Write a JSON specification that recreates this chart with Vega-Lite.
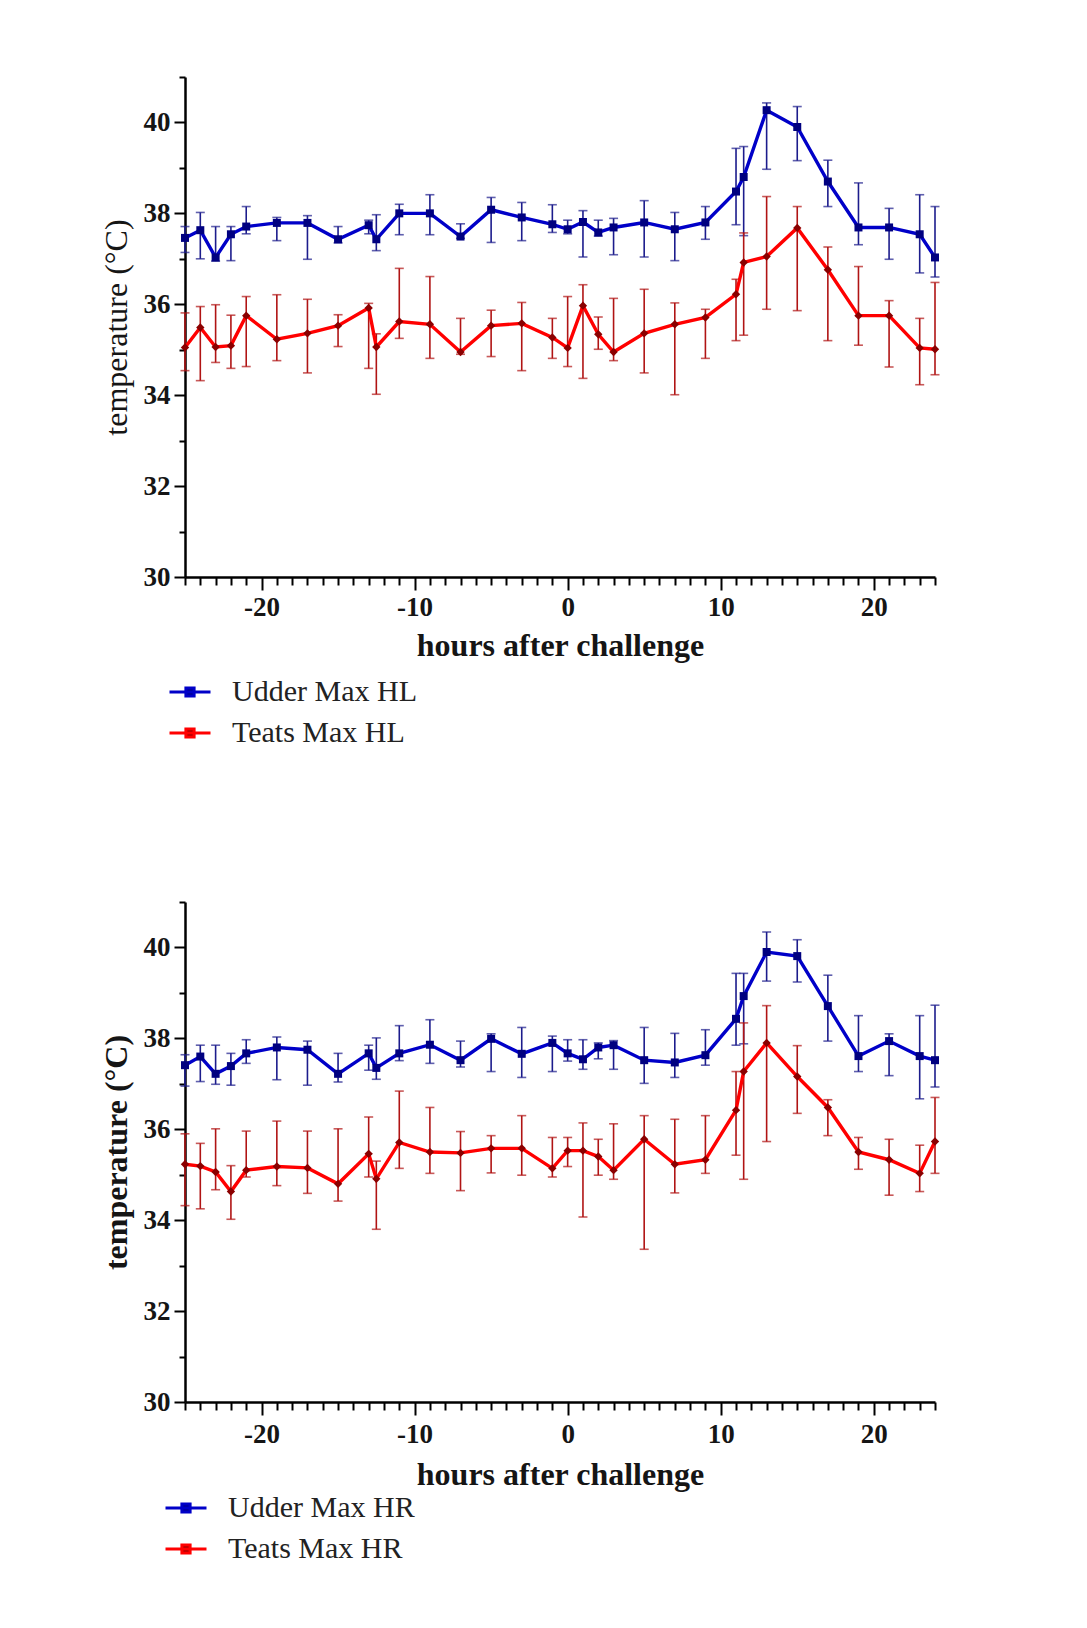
{
  "$schema": "https://vega.github.io/schema/vega-lite/v6.json",
  "padding": {"left": 100, "top": 76, "right": 10, "bottom": 10},
  "background": "white",
  "spacing": 153,
  "resolve": {"scale": {"color": "independent"}, "legend": {"color": "independent"}},
  "config": {
    "view": {"stroke": null},
    "axis": {
      "grid": false,
      "domainColor": "black",
      "domainWidth": 2.5,
      "tickColor": "black",
      "tickWidth": 2,
      "labelFont": "Liberation Serif",
      "labelFontWeight": "bold",
      "labelFontSize": 27,
      "labelColor": "#151515",
      "titleFont": "Liberation Serif",
      "titleFontSize": 32,
      "titleFontWeight": "bold",
      "titleColor": "#151515"
    },
    "legend": {
      "labelFont": "Liberation Serif",
      "labelFontSize": 30,
      "labelColor": "#222222",
      "labelLimit": 500,
      "padding": 0
    }
  },
  "datasets": {
    "hl": [
      {"series": "Udder Max HL", "h": -25, "m": 37.46, "lo": 37.14, "hi": 37.71},
      {"series": "Udder Max HL", "h": -24, "m": 37.63, "lo": 37.0, "hi": 38.02},
      {"series": "Udder Max HL", "h": -23, "m": 37.03, "lo": 36.95, "hi": 37.71},
      {"series": "Udder Max HL", "h": -22, "m": 37.54, "lo": 36.96, "hi": 37.71},
      {"series": "Udder Max HL", "h": -21, "m": 37.71, "lo": 37.55, "hi": 38.15},
      {"series": "Udder Max HL", "h": -19, "m": 37.79, "lo": 37.4, "hi": 37.91},
      {"series": "Udder Max HL", "h": -17, "m": 37.79, "lo": 36.99, "hi": 37.95},
      {"series": "Udder Max HL", "h": -15, "m": 37.43, "lo": 37.35, "hi": 37.71},
      {"series": "Udder Max HL", "h": -13, "m": 37.74, "lo": 37.55, "hi": 37.85},
      {"series": "Udder Max HL", "h": -12.5, "m": 37.43, "lo": 37.18, "hi": 37.97},
      {"series": "Udder Max HL", "h": -11, "m": 38.0, "lo": 37.53, "hi": 38.2},
      {"series": "Udder Max HL", "h": -9, "m": 38.0, "lo": 37.53, "hi": 38.41},
      {"series": "Udder Max HL", "h": -7, "m": 37.49, "lo": 37.45, "hi": 37.77},
      {"series": "Udder Max HL", "h": -5, "m": 38.08, "lo": 37.36, "hi": 38.35},
      {"series": "Udder Max HL", "h": -3, "m": 37.91, "lo": 37.4, "hi": 38.24},
      {"series": "Udder Max HL", "h": -1, "m": 37.76, "lo": 37.58, "hi": 38.19},
      {"series": "Udder Max HL", "h": 0, "m": 37.65, "lo": 37.55, "hi": 37.85},
      {"series": "Udder Max HL", "h": 1, "m": 37.81, "lo": 37.04, "hi": 38.06},
      {"series": "Udder Max HL", "h": 2, "m": 37.58, "lo": 37.5, "hi": 37.85},
      {"series": "Udder Max HL", "h": 3, "m": 37.69, "lo": 37.09, "hi": 37.89},
      {"series": "Udder Max HL", "h": 5, "m": 37.8, "lo": 37.04, "hi": 38.28},
      {"series": "Udder Max HL", "h": 7, "m": 37.65, "lo": 36.96, "hi": 38.02},
      {"series": "Udder Max HL", "h": 9, "m": 37.8, "lo": 37.43, "hi": 38.15},
      {"series": "Udder Max HL", "h": 11, "m": 38.48, "lo": 37.75, "hi": 39.43},
      {"series": "Udder Max HL", "h": 11.5, "m": 38.8, "lo": 37.51, "hi": 39.47},
      {"series": "Udder Max HL", "h": 13, "m": 40.27, "lo": 38.97, "hi": 40.43},
      {"series": "Udder Max HL", "h": 15, "m": 39.9, "lo": 39.16, "hi": 40.35},
      {"series": "Udder Max HL", "h": 17, "m": 38.7, "lo": 38.15, "hi": 39.17},
      {"series": "Udder Max HL", "h": 19, "m": 37.69, "lo": 37.31, "hi": 38.67},
      {"series": "Udder Max HL", "h": 21, "m": 37.69, "lo": 36.99, "hi": 38.11},
      {"series": "Udder Max HL", "h": 23, "m": 37.54, "lo": 36.69, "hi": 38.41},
      {"series": "Udder Max HL", "h": 24, "m": 37.03, "lo": 36.6, "hi": 38.15},
      {"series": "Teats Max HL", "h": -25, "m": 35.05, "lo": 34.54, "hi": 35.81},
      {"series": "Teats Max HL", "h": -24, "m": 35.49, "lo": 34.32, "hi": 35.95},
      {"series": "Teats Max HL", "h": -23, "m": 35.06, "lo": 34.72, "hi": 35.99},
      {"series": "Teats Max HL", "h": -22, "m": 35.09, "lo": 34.59, "hi": 35.76},
      {"series": "Teats Max HL", "h": -21, "m": 35.75, "lo": 34.63, "hi": 36.17},
      {"series": "Teats Max HL", "h": -19, "m": 35.23, "lo": 34.76, "hi": 36.21},
      {"series": "Teats Max HL", "h": -17, "m": 35.36, "lo": 34.49, "hi": 36.11},
      {"series": "Teats Max HL", "h": -15, "m": 35.53, "lo": 35.07, "hi": 35.77},
      {"series": "Teats Max HL", "h": -13, "m": 35.92, "lo": 34.59, "hi": 36.02},
      {"series": "Teats Max HL", "h": -12.5, "m": 35.06, "lo": 34.02, "hi": 35.35},
      {"series": "Teats Max HL", "h": -11, "m": 35.62, "lo": 35.25, "hi": 36.79},
      {"series": "Teats Max HL", "h": -9, "m": 35.56, "lo": 34.81, "hi": 36.61},
      {"series": "Teats Max HL", "h": -7, "m": 34.95, "lo": 34.9, "hi": 35.69},
      {"series": "Teats Max HL", "h": -5, "m": 35.53, "lo": 34.85, "hi": 35.87},
      {"series": "Teats Max HL", "h": -3, "m": 35.58, "lo": 34.54, "hi": 36.04},
      {"series": "Teats Max HL", "h": -1, "m": 35.27, "lo": 34.81, "hi": 35.69},
      {"series": "Teats Max HL", "h": 0, "m": 35.04, "lo": 34.63, "hi": 36.17},
      {"series": "Teats Max HL", "h": 1, "m": 35.97, "lo": 34.37, "hi": 36.43},
      {"series": "Teats Max HL", "h": 2, "m": 35.34, "lo": 35.01, "hi": 35.72},
      {"series": "Teats Max HL", "h": 3, "m": 34.95, "lo": 34.76, "hi": 36.13},
      {"series": "Teats Max HL", "h": 5, "m": 35.36, "lo": 34.49, "hi": 36.33},
      {"series": "Teats Max HL", "h": 7, "m": 35.56, "lo": 34.01, "hi": 36.03},
      {"series": "Teats Max HL", "h": 9, "m": 35.71, "lo": 34.81, "hi": 35.89},
      {"series": "Teats Max HL", "h": 11, "m": 36.22, "lo": 35.2, "hi": 36.55},
      {"series": "Teats Max HL", "h": 11.5, "m": 36.92, "lo": 35.32, "hi": 37.57},
      {"series": "Teats Max HL", "h": 13, "m": 37.05, "lo": 35.89, "hi": 38.37},
      {"series": "Teats Max HL", "h": 15, "m": 37.68, "lo": 35.86, "hi": 38.15},
      {"series": "Teats Max HL", "h": 17, "m": 36.76, "lo": 35.2, "hi": 37.26},
      {"series": "Teats Max HL", "h": 19, "m": 35.75, "lo": 35.1, "hi": 36.83},
      {"series": "Teats Max HL", "h": 21, "m": 35.75, "lo": 34.62, "hi": 36.08},
      {"series": "Teats Max HL", "h": 23, "m": 35.04, "lo": 34.23, "hi": 35.69},
      {"series": "Teats Max HL", "h": 24, "m": 35.01, "lo": 34.45, "hi": 36.48}
    ],
    "hr": [
      {"series": "Udder Max HR", "h": -25, "m": 37.41, "lo": 36.95, "hi": 37.64},
      {"series": "Udder Max HR", "h": -24, "m": 37.6, "lo": 37.05, "hi": 37.85},
      {"series": "Udder Max HR", "h": -23, "m": 37.22, "lo": 36.99, "hi": 37.85},
      {"series": "Udder Max HR", "h": -22, "m": 37.39, "lo": 36.97, "hi": 37.67},
      {"series": "Udder Max HR", "h": -21, "m": 37.67, "lo": 37.45, "hi": 37.97},
      {"series": "Udder Max HR", "h": -19, "m": 37.8, "lo": 37.09, "hi": 38.03},
      {"series": "Udder Max HR", "h": -17, "m": 37.75, "lo": 36.97, "hi": 37.94},
      {"series": "Udder Max HR", "h": -15, "m": 37.22, "lo": 37.04, "hi": 37.67},
      {"series": "Udder Max HR", "h": -13, "m": 37.67, "lo": 37.3, "hi": 37.85},
      {"series": "Udder Max HR", "h": -12.5, "m": 37.35, "lo": 37.1, "hi": 38.01},
      {"series": "Udder Max HR", "h": -11, "m": 37.67, "lo": 37.51, "hi": 38.28},
      {"series": "Udder Max HR", "h": -9, "m": 37.86, "lo": 37.45, "hi": 38.41},
      {"series": "Udder Max HR", "h": -7, "m": 37.52, "lo": 37.37, "hi": 37.94},
      {"series": "Udder Max HR", "h": -5, "m": 37.99, "lo": 37.27, "hi": 38.1},
      {"series": "Udder Max HR", "h": -3, "m": 37.66, "lo": 37.14, "hi": 38.24},
      {"series": "Udder Max HR", "h": -1, "m": 37.9, "lo": 37.27, "hi": 38.05},
      {"series": "Udder Max HR", "h": 0, "m": 37.67, "lo": 37.5, "hi": 37.97},
      {"series": "Udder Max HR", "h": 1, "m": 37.54, "lo": 37.32, "hi": 37.97},
      {"series": "Udder Max HR", "h": 2, "m": 37.8, "lo": 37.55, "hi": 37.9},
      {"series": "Udder Max HR", "h": 3, "m": 37.85, "lo": 37.32, "hi": 37.95},
      {"series": "Udder Max HR", "h": 5, "m": 37.52, "lo": 37.01, "hi": 38.24},
      {"series": "Udder Max HR", "h": 7, "m": 37.47, "lo": 37.14, "hi": 38.11},
      {"series": "Udder Max HR", "h": 9, "m": 37.63, "lo": 37.41, "hi": 38.19},
      {"series": "Udder Max HR", "h": 11, "m": 38.43, "lo": 37.85, "hi": 39.43},
      {"series": "Udder Max HR", "h": 11.5, "m": 38.93, "lo": 37.88, "hi": 39.43},
      {"series": "Udder Max HR", "h": 13, "m": 39.9, "lo": 39.26, "hi": 40.34},
      {"series": "Udder Max HR", "h": 15, "m": 39.81, "lo": 39.24, "hi": 40.17},
      {"series": "Udder Max HR", "h": 17, "m": 38.71, "lo": 37.94, "hi": 39.39},
      {"series": "Udder Max HR", "h": 19, "m": 37.61, "lo": 37.27, "hi": 38.5},
      {"series": "Udder Max HR", "h": 21, "m": 37.94, "lo": 37.18, "hi": 38.1},
      {"series": "Udder Max HR", "h": 23, "m": 37.61, "lo": 36.67, "hi": 38.5},
      {"series": "Udder Max HR", "h": 24, "m": 37.52, "lo": 36.93, "hi": 38.73},
      {"series": "Teats Max HR", "h": -25, "m": 35.23, "lo": 34.32, "hi": 35.9},
      {"series": "Teats Max HR", "h": -24, "m": 35.19, "lo": 34.25, "hi": 35.69},
      {"series": "Teats Max HR", "h": -23, "m": 35.06, "lo": 34.67, "hi": 36.01},
      {"series": "Teats Max HR", "h": -22, "m": 34.63, "lo": 34.02, "hi": 35.2},
      {"series": "Teats Max HR", "h": -21, "m": 35.1, "lo": 34.95, "hi": 35.96},
      {"series": "Teats Max HR", "h": -19, "m": 35.18, "lo": 34.76, "hi": 36.18},
      {"series": "Teats Max HR", "h": -17, "m": 35.15, "lo": 34.59, "hi": 35.96},
      {"series": "Teats Max HR", "h": -15, "m": 34.8, "lo": 34.42, "hi": 36.01},
      {"series": "Teats Max HR", "h": -13, "m": 35.46, "lo": 34.95, "hi": 36.27},
      {"series": "Teats Max HR", "h": -12.5, "m": 34.91, "lo": 33.8, "hi": 35.3},
      {"series": "Teats Max HR", "h": -11, "m": 35.71, "lo": 35.14, "hi": 36.84},
      {"series": "Teats Max HR", "h": -9, "m": 35.5, "lo": 35.03, "hi": 36.48},
      {"series": "Teats Max HR", "h": -7, "m": 35.48, "lo": 34.65, "hi": 35.95},
      {"series": "Teats Max HR", "h": -5, "m": 35.58, "lo": 35.04, "hi": 35.86},
      {"series": "Teats Max HR", "h": -3, "m": 35.58, "lo": 34.99, "hi": 36.3},
      {"series": "Teats Max HR", "h": -1, "m": 35.14, "lo": 34.95, "hi": 35.82},
      {"series": "Teats Max HR", "h": 0, "m": 35.53, "lo": 35.18, "hi": 35.82},
      {"series": "Teats Max HR", "h": 1, "m": 35.53, "lo": 34.07, "hi": 36.14},
      {"series": "Teats Max HR", "h": 2, "m": 35.4, "lo": 34.99, "hi": 35.78},
      {"series": "Teats Max HR", "h": 3, "m": 35.1, "lo": 34.9, "hi": 36.12},
      {"series": "Teats Max HR", "h": 5, "m": 35.78, "lo": 33.36, "hi": 36.3},
      {"series": "Teats Max HR", "h": 7, "m": 35.23, "lo": 34.6, "hi": 36.22},
      {"series": "Teats Max HR", "h": 9, "m": 35.33, "lo": 35.03, "hi": 36.3},
      {"series": "Teats Max HR", "h": 11, "m": 36.42, "lo": 35.43, "hi": 37.27},
      {"series": "Teats Max HR", "h": 11.5, "m": 37.27, "lo": 34.9, "hi": 38.34},
      {"series": "Teats Max HR", "h": 13, "m": 37.9, "lo": 35.73, "hi": 38.72},
      {"series": "Teats Max HR", "h": 15, "m": 37.16, "lo": 36.35, "hi": 37.84},
      {"series": "Teats Max HR", "h": 17, "m": 36.48, "lo": 35.86, "hi": 36.65},
      {"series": "Teats Max HR", "h": 19, "m": 35.5, "lo": 35.12, "hi": 35.82},
      {"series": "Teats Max HR", "h": 21, "m": 35.33, "lo": 34.55, "hi": 35.78},
      {"series": "Teats Max HR", "h": 23, "m": 35.03, "lo": 34.63, "hi": 35.65},
      {"series": "Teats Max HR", "h": 24, "m": 35.73, "lo": 35.03, "hi": 36.7}
    ]
  },
  "vconcat": [
    {
      "width": 750,
      "height": 500,
      "data": {"name": "hl"},
      "encoding": {
        "x": {
          "field": "h", "type": "quantitative",
          "scale": {"domain": [-25, 24], "nice": false, "zero": false},
          "axis": {
            "title": "hours after challenge",
            "values": [-25,-24,-23,-22,-21,-20,-19,-18,-17,-16,-15,-14,-13,-12,-11,-10,-9,-8,-7,-6,-5,-4,-3,-2,-1,0,1,2,3,4,5,6,7,8,9,10,11,12,13,14,15,16,17,18,19,20,21,22,23,24],
            "labelExpr": "datum.value % 10 === 0 ? (datum.value < 0 ? '-' + abs(datum.value) : '' + datum.value) : ''",
            "tickSize": {"condition": {"test": "datum.value % 10 === 0", "value": 13}, "value": 8},
            "labelPadding": 4,
            "titlePadding": 10,
            "labelFlush": false,
            "labelOverlap": false
          }
        }
      },
      "layer": [
        {
          "transform": [{"filter": "indexof(datum.series, 'Udder') >= 0"}],
          "mark": {"type": "errorbar", "color": "#1c1c8c", "thickness": 1.6, "ticks": {"size": 9}},
          "encoding": {
            "y": {"field": "lo", "type": "quantitative", "scale": {"domain": [30, 41], "nice": false, "zero": false}, "title": "temperature (°C)"},
            "y2": {"field": "hi"}
          }
        },
        {
          "transform": [{"filter": "indexof(datum.series, 'Teats') >= 0"}],
          "mark": {"type": "errorbar", "color": "#b01414", "thickness": 1.6, "ticks": {"size": 9}},
          "encoding": {
            "y": {"field": "lo", "type": "quantitative", "scale": {"domain": [30, 41], "nice": false, "zero": false}, "title": "temperature (°C)"},
            "y2": {"field": "hi"}
          }
        },
        {
          "mark": {"type": "line", "strokeWidth": 3.4},
          "encoding": {
            "y": {
              "field": "m", "type": "quantitative",
              "scale": {"domain": [30, 41], "nice": false, "zero": false},
              "axis": {
                "title": "temperature (°C)",
                "titleFontWeight": "normal",
                "values": [30,31,32,33,34,35,36,37,38,39,40,41],
                "labelExpr": "datum.value % 2 === 0 ? datum.label : ''",
                "tickSize": {"condition": {"test": "datum.value % 2 === 0", "value": 11}, "value": 6},
                "labelPadding": 4,
                "titlePadding": 10
              }
            },
            "color": {
              "field": "series", "type": "nominal",
              "scale": {"domain": ["Udder Max HL", "Teats Max HL"], "range": ["#0000c8", "#ff0000"]},
              "legend": {
                "orient": "none", "legendX": -17, "legendY": 593,
                "title": null,
                "symbolType": "M-1,0H1M-0.2,-0.2H0.2V0.2H-0.2Z",
                "symbolSize": 1681,
                "symbolStrokeWidth": 3,
                "labelOffset": 20,
                "rowPadding": 4,
                "encode": {"symbols": {"update": {"fill": {"signal": "indexof(datum.value, 'Udder') >= 0 ? '#000080' : '#8b0000'"}}}}
              }
            }
          }
        },
        {
          "transform": [{"filter": "indexof(datum.series, 'Udder') >= 0"}],
          "mark": {"type": "point", "shape": "square", "filled": true, "size": 64, "color": "#000080", "opacity": 1},
          "encoding": {"y": {"field": "m", "type": "quantitative", "scale": {"domain": [30, 41], "nice": false, "zero": false}, "title": "temperature (°C)"}}
        },
        {
          "transform": [{"filter": "indexof(datum.series, 'Teats') >= 0"}],
          "mark": {"type": "point", "shape": "diamond", "filled": true, "size": 70, "color": "#8b0000", "opacity": 1},
          "encoding": {"y": {"field": "m", "type": "quantitative", "scale": {"domain": [30, 41], "nice": false, "zero": false}, "title": "temperature (°C)"}}
        }
      ]
    },
    {
      "width": 750,
      "height": 500,
      "data": {"name": "hr"},
      "encoding": {
        "x": {
          "field": "h", "type": "quantitative",
          "scale": {"domain": [-25, 24], "nice": false, "zero": false},
          "axis": {
            "title": "hours after challenge",
            "values": [-25,-24,-23,-22,-21,-20,-19,-18,-17,-16,-15,-14,-13,-12,-11,-10,-9,-8,-7,-6,-5,-4,-3,-2,-1,0,1,2,3,4,5,6,7,8,9,10,11,12,13,14,15,16,17,18,19,20,21,22,23,24],
            "labelExpr": "datum.value % 10 === 0 ? (datum.value < 0 ? '-' + abs(datum.value) : '' + datum.value) : ''",
            "tickSize": {"condition": {"test": "datum.value % 10 === 0", "value": 13}, "value": 8},
            "labelPadding": 6,
            "titlePadding": 12,
            "labelFlush": false,
            "labelOverlap": false
          }
        }
      },
      "layer": [
        {
          "transform": [{"filter": "indexof(datum.series, 'Udder') >= 0"}],
          "mark": {"type": "errorbar", "color": "#1c1c8c", "thickness": 1.6, "ticks": {"size": 9}},
          "encoding": {
            "y": {"field": "lo", "type": "quantitative", "scale": {"domain": [30, 41], "nice": false, "zero": false}, "title": "temperature (°C)"},
            "y2": {"field": "hi"}
          }
        },
        {
          "transform": [{"filter": "indexof(datum.series, 'Teats') >= 0"}],
          "mark": {"type": "errorbar", "color": "#b01414", "thickness": 1.6, "ticks": {"size": 9}},
          "encoding": {
            "y": {"field": "lo", "type": "quantitative", "scale": {"domain": [30, 41], "nice": false, "zero": false}, "title": "temperature (°C)"},
            "y2": {"field": "hi"}
          }
        },
        {
          "mark": {"type": "line", "strokeWidth": 3.4},
          "encoding": {
            "y": {
              "field": "m", "type": "quantitative",
              "scale": {"domain": [30, 41], "nice": false, "zero": false},
              "axis": {
                "title": "temperature (°C)",
                "values": [30,31,32,33,34,35,36,37,38,39,40,41],
                "labelExpr": "datum.value % 2 === 0 ? datum.label : ''",
                "tickSize": {"condition": {"test": "datum.value % 2 === 0", "value": 11}, "value": 6},
                "labelPadding": 4,
                "titlePadding": 10
              }
            },
            "color": {
              "field": "series", "type": "nominal",
              "scale": {"domain": ["Udder Max HR", "Teats Max HR"], "range": ["#0000c8", "#ff0000"]},
              "legend": {
                "orient": "none", "legendX": -21, "legendY": 584,
                "title": null,
                "symbolType": "M-1,0H1M-0.2,-0.2H0.2V0.2H-0.2Z",
                "symbolSize": 1681,
                "symbolStrokeWidth": 3,
                "labelOffset": 20,
                "rowPadding": 4,
                "encode": {"symbols": {"update": {"fill": {"signal": "indexof(datum.value, 'Udder') >= 0 ? '#000080' : '#8b0000'"}}}}
              }
            }
          }
        },
        {
          "transform": [{"filter": "indexof(datum.series, 'Udder') >= 0"}],
          "mark": {"type": "point", "shape": "square", "filled": true, "size": 64, "color": "#000080", "opacity": 1},
          "encoding": {"y": {"field": "m", "type": "quantitative", "scale": {"domain": [30, 41], "nice": false, "zero": false}, "title": "temperature (°C)"}}
        },
        {
          "transform": [{"filter": "indexof(datum.series, 'Teats') >= 0"}],
          "mark": {"type": "point", "shape": "diamond", "filled": true, "size": 70, "color": "#8b0000", "opacity": 1},
          "encoding": {"y": {"field": "m", "type": "quantitative", "scale": {"domain": [30, 41], "nice": false, "zero": false}, "title": "temperature (°C)"}}
        }
      ]
    }
  ]
}
